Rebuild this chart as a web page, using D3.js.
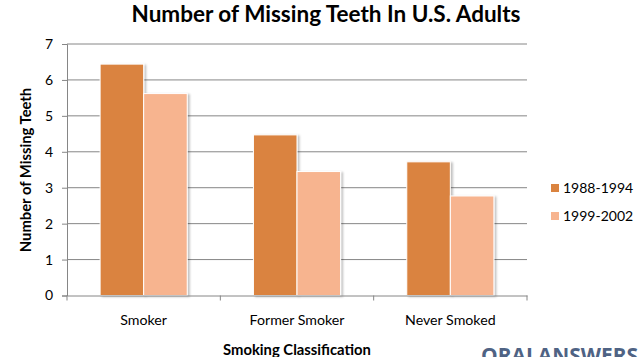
<!DOCTYPE html>
<html><head><meta charset="utf-8">
<script src="https://cdn.jsdelivr.net/npm/d3@7"></script>
<style>body{margin:0;background:#fff}svg{display:block}</style>
</head><body>
<script>
const categories = ["Smoker", "Former Smoker", "Never Smoked"];
const seriesNames = ["1988-1994", "1999-2002"];
const series1 = [6.44, 4.47, 3.72];
const series2 = [5.62, 3.45, 2.77];
const yTicks = [0, 1, 2, 3, 4, 5, 6, 7];
const colors = ["#DA833F", "#F7B48F"];

(function () {
const W = 644, H = 357;
const pL = 67, pR = 527, pT = 44, pB = 295.5;
const font = "Lato, 'Open Sans', sans-serif";

const svg = d3.select("body").append("svg").attr("width", W).attr("height", H);
const defs = svg.append("defs");
const f = defs.append("filter").attr("id", "sh").attr("x", "-20%").attr("y", "-20%").attr("width", "150%").attr("height", "150%");
f.append("feDropShadow").attr("dx", 2).attr("dy", 1).attr("stdDeviation", 1.2).attr("flood-color", "#000").attr("flood-opacity", 0.25);

const y = d3.scaleLinear().domain([0, 7]).range([pB, pT]);
const x0 = d3.scaleBand().domain(categories).range([pL, pR]).padding(0);
const x1 = d3.scaleBand().domain(seriesNames).range([0, x0.bandwidth()]).paddingInner(0).paddingOuter(0.76);

// gridlines
svg.append("g").selectAll("line").data(yTicks.filter(d => d > 0)).join("line")
  .attr("x1", pL).attr("x2", pR).attr("y1", d => y(d)).attr("y2", d => y(d))
  .attr("stroke", "#868686").attr("stroke-width", 1);

// y axis
const ya = svg.append("g").attr("transform", `translate(${pL},0)`)
  .call(d3.axisLeft(y).tickValues(yTicks).tickSize(5).tickPadding(9).tickFormat(d3.format("d")));
ya.select(".domain").attr("stroke", "#868686");
ya.selectAll(".tick line").attr("stroke", "#868686");
ya.selectAll("text").attr("font-family", font).attr("font-size", 14).attr("fill", "#000");

// bars
const data = categories.map((c, i) => ({c, vals: [series1[i], series2[i]]}));
const g = svg.append("g");
data.forEach(d => {
  d.vals.forEach((v, j) => {
    g.append("rect")
      .attr("x", x0(d.c) + x1(seriesNames[j]))
      .attr("y", y(v))
      .attr("width", x1.bandwidth())
      .attr("height", pB - y(v))
      .attr("fill", colors[j])
      .attr("stroke", "#fff").attr("stroke-width", 1)
      .attr("filter", "url(#sh)");
  });
});

// x axis
const xa = svg.append("g").attr("transform", `translate(0,${pB})`)
  .call(d3.axisBottom(x0).tickSize(0).tickPadding(19));
xa.select(".domain").attr("stroke", "#868686");
xa.selectAll("text").attr("font-family", font).attr("font-size", 14.2).attr("fill", "#000");
svg.append("g").selectAll("line").data([pL, ...categories.map(c => x0(c) + x0.bandwidth())]).join("line")
  .attr("x1", d => d).attr("x2", d => d).attr("y1", pB).attr("y2", pB + 5)
  .attr("stroke", "#868686");

// title
svg.append("text").attr("x", 326).attr("y", 22).attr("text-anchor", "middle")
  .attr("font-family", font).attr("font-weight", "bold").attr("font-size", 22.5).attr("fill", "#000")
  .text("Number of Missing Teeth In U.S. Adults");

// axis titles
svg.append("text").attr("transform", "translate(31,170) rotate(-90)").attr("text-anchor", "middle")
  .attr("font-family", font).attr("font-weight", "bold").attr("font-size", 14.8).attr("fill", "#000")
  .text("Number of Missing Teeth");
svg.append("text").attr("x", 297).attr("y", 355).attr("text-anchor", "middle")
  .attr("font-family", font).attr("font-weight", "bold").attr("font-size", 14.8).attr("fill", "#000")
  .text("Smoking Classification");

// legend
const lg = svg.append("g");
seriesNames.forEach((s, i) => {
  lg.append("rect").attr("x", 551).attr("y", 184 + i * 28).attr("width", 8).attr("height", 8).attr("fill", colors[i]);
  lg.append("text").attr("x", 563).attr("y", 192.5 + i * 28)
    .attr("font-family", font).attr("font-size", 14).attr("fill", "#000").text(s);
});

// watermark (clipped at the bottom edge, as in the reference)
svg.append("text").attr("x", 481).attr("y", 363).attr("textLength", 157).attr("lengthAdjust", "spacingAndGlyphs")
  .attr("font-family", "'Open Sans', sans-serif").attr("font-weight", "bold").attr("font-size", 21)
  .attr("fill", "#4F6384").text("ORALANSWERS");
})();
</script>
</body></html>
